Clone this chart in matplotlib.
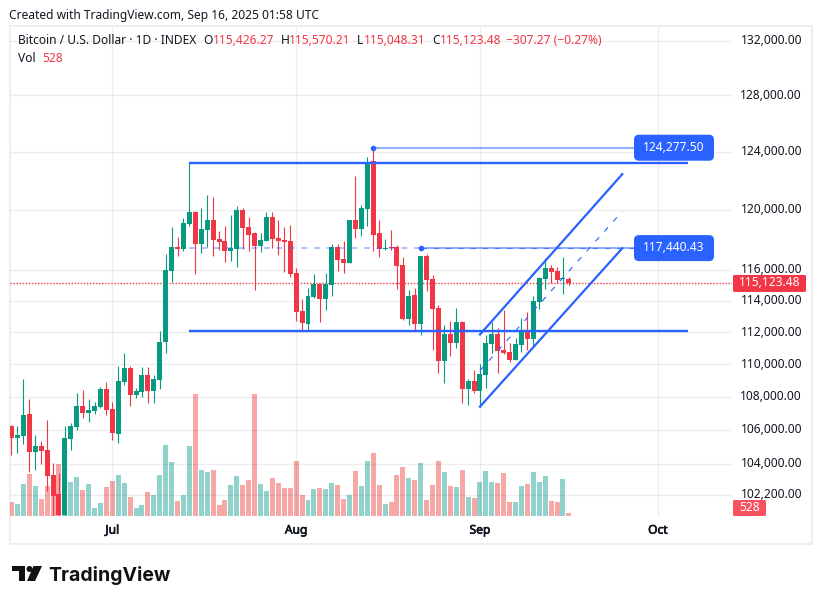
import matplotlib
matplotlib.use('Agg')
import matplotlib.pyplot as plt
import matplotlib.dates as mdates
import matplotlib.patheffects as pe
from matplotlib.patches import Circle, FancyBboxPatch, Polygon, Rectangle
from matplotlib.ticker import NullFormatter, NullLocator
from matplotlib.transforms import Affine2D, ScaledTranslation
import numpy as np
import pandas as pd

plt.rcParams['font.family'] = ['Noto Sans', 'DejaVu Sans']

W, H = 822, 604
BLUE = '#2962FF'
RED = '#F23645'
GREEN = '#089981'
INK = '#131722'

start_date = '2025-06-14'

opens = [106230, 105520, 105640, 106960, 104680, 105020, 104780, 103350, 102250, 101030,
         105440, 106170, 107440, 107040, 107140, 107380, 108470, 107260, 105750, 108900,
         109750, 108110, 108290, 109320, 108350, 109020, 111360, 115910, 117490, 117360,
         119020, 119830, 117700, 118620, 119290, 118030, 117890, 117220, 117360, 119970,
         118820, 118420, 117560, 117890, 119490, 118090, 117960, 117890, 115790, 113350,
         112540, 114240, 115070, 114110, 115010, 117490, 116700, 116440, 119290, 118690,
         120040, 123340, 118420, 117360, 117490, 117490, 116310, 112850, 114370, 112540,
         116900, 115400, 113540, 110180, 111920, 111300, 112670, 108470, 108960, 108350,
         109320, 111240, 111860, 110860, 110740, 110240, 111180, 112110, 111550, 113920,
         115400, 116110, 115910, 115400, 115426.27]
highs = [106290, 106230, 109080, 107870, 105680, 105320, 106590, 104050, 103470, 106230,
         106410, 108230, 108410, 107870, 107680, 108590, 108900, 107680, 109870, 110670,
         109870, 108530, 109810, 109810, 109320, 112110, 117030, 118820, 118160, 119430,
         123210, 119900, 120110, 121010, 120870, 118550, 118880, 119630, 120250, 120110,
         119490, 118490, 118420, 119830, 119830, 119290, 118820, 118950, 116110, 114110,
         114820, 115720, 115140, 115790, 117700, 117700, 117890, 119290, 122300, 120320,
         123620, 124277.5, 119290, 118030, 118620, 117630, 116830, 114690, 114820, 116900,
         117030, 115660, 113730, 112480, 112730, 113540, 112730, 109080, 109630, 109990,
         111800, 112670, 112290, 113410, 111300, 111610, 112910, 113290, 114310, 115530,
         116770, 116310, 116180, 116830, 115570.21]
lows = [104490, 104610, 105160, 103490, 103610, 104010, 102440, 100910, 100930, 100930,
        104800, 106010, 106740, 106490, 106980, 107320, 106900, 105380, 105200, 108710,
        107440, 107930, 107990, 107620, 107620, 108470, 110680, 115200, 116900, 117220,
        118890, 115720, 117090, 117490, 116900, 117290, 116500, 116570, 116180, 117360,
        117220, 114690, 117160, 117890, 117430, 116960, 115850, 115530, 112730, 112050,
        112050, 114180, 112670, 113410, 114310, 115910, 115790, 116440, 118090, 118220,
        118890, 117220, 116830, 117290, 117290, 114750, 112790, 112480, 112110, 111800,
        114630, 110860, 109440, 108830, 110490, 110990, 107630, 107510, 108230, 107400,
        108530, 110680, 109440, 110620, 110110, 110240, 110740, 110860, 111120, 113480,
        114750, 115140, 115140, 114430, 115048.31]
closes = [105520, 105680, 106900, 104680, 105020, 104720, 103310, 102150, 101030, 105500,
          106230, 107440, 107040, 107200, 107440, 108470, 107200, 105810, 108960, 109750,
          108110, 108350, 109320, 108350, 109080, 111360, 115980, 117490, 117360, 119090,
          119830, 117700, 118690, 119290, 117960, 117830, 117220, 117430, 119970, 118750,
          118290, 117560, 117960, 119490, 118030, 117890, 117830, 115720, 113290, 112600,
          114310, 115070, 114110, 115070, 117490, 116630, 116440, 119290, 118690, 120110,
          123200, 118290, 117360, 117430, 117430, 116240, 112850, 114310, 112540, 116900,
          115330, 113480, 110180, 111920, 111300, 112670, 108470, 108960, 108350, 109380,
          111300, 111860, 110810, 110680, 110240, 111240, 112110, 111550, 113990, 115460,
          116110, 115850, 115330, 115460, 115123.48]
volumes = [2460, 2110, 5630, 7390, 5280, 2990, 5280, 3520, 9150, 7040,
           5980, 6860, 4580, 5630, 1410, 2290, 5100, 6160, 7220, 5810,
           3340, 1410, 1940, 4220, 3700, 7220, 12500, 9500, 2640, 3700,
           12320, 21470, 8100, 7740, 8100, 1940, 2820, 5460, 7040, 5460,
           6340, 21470, 5630, 4400, 6690, 5810, 4930, 4930, 9680, 3700,
           2820, 4750, 4930, 4750, 5810, 5460, 2990, 3700, 7920, 5280,
           9680, 11090, 5460, 2110, 2460, 7220, 8620, 6690, 6340, 9330,
           2820, 5460, 9680, 7740, 5280, 5100, 8100, 3340, 3170, 5980,
           7920, 5980, 5810, 7570, 2460, 2460, 5280, 5630, 7740, 5980,
           7040, 2640, 2460, 6510, 528]

price_ticks = [132000, 128000, 124000, 120000, 116000, 114000, 112000, 110000, 108000,
               106000, 104000, 102200]
month_ticks = ['2025-07-01', '2025-08-01', '2025-09-01', '2025-10-01']
month_labels = ['Jul', 'Aug', 'Sep', 'Oct']

range_top = 123180
range_bottom = 112050
high_anchor = 124277.50
second_anchor = 117440.43
channel_lower = [107400, 117430]
channel_middle = [109600, 119900]
channel_upper = [111860, 122440]

dates = pd.date_range(start_date, periods=len(opens))
x = mdates.date2num(dates)
opens, highs, lows, closes = map(np.array, (opens, highs, lows, closes))
up = closes >= opens


def day(s):
    return mdates.date2num(pd.Timestamp(s))


fig = plt.figure(figsize=(W / 100, H / 100), dpi=100, facecolor='white')
px = Affine2D().scale(1, -1).translate(0, H)

left, right, top, bottom = 10, 732, 27, 516
ax = fig.add_axes([left / W, 1 - bottom / H, (right - left) / W, (bottom - top) / H])
vol = ax.twinx()
ax.set_zorder(2)
vol.set_zorder(1)
ax.patch.set_visible(False)
vol.set_axis_off()

# volume pane, 176 volume per pixel
vol.bar(x[up], np.array(volumes)[up], width=0.84, color='#26a69a', alpha=0.5)
vol.bar(x[~up], np.array(volumes)[~up], width=0.84, color='#ef5350', alpha=0.5)
vol.set_ylim(0, 176 * (bottom - top))

# candles
for mask, col in ((up, GREEN), (~up, RED)):
    ax.vlines(x[mask], lows[mask], highs[mask], color=col, lw=0.8, zorder=3)
    ax.bar(x[mask], np.abs(closes - opens)[mask], bottom=np.minimum(opens, closes)[mask],
           width=0.84, color=col, zorder=3)

ax.set_yscale('log')
ax.set_ylim(100980, 133028)
ax.set_xlim(x[0] - 1.5 / 5.93, x[0] + (right - 11.5) / 5.93)

ax.yaxis.tick_right()
ax.set_yticks(price_ticks, labels=['{:,.2f}'.format(p) for p in price_ticks])
ax.yaxis.set_minor_locator(NullLocator())
ax.yaxis.set_minor_formatter(NullFormatter())
ax.set_xticks([day(m) for m in month_ticks], labels=month_labels)
ax.tick_params(axis='y', length=0, pad=50.4, labelsize=8.64, labelcolor=INK)
ax.tick_params(axis='x', length=0, pad=5.5, labelsize=8.64, labelcolor=INK)
# price labels sit a little above their grid lines
nudge = ScaledTranslation(0, 1.7 / 100, fig.dpi_scale_trans)
for t in ax.yaxis.get_major_ticks():
    t.label2.set_ha('right')
    t.label2.set_transform(t.label2.get_transform() + nudge)
for t in ax.get_xticklabels():
    t.set_fontweight('bold')
    t.set_path_effects([pe.withStroke(linewidth=0.5, foreground=INK)])
ax.grid(True, color=INK, alpha=0.07, lw=1)
ax.set_axisbelow(True)
for s in ax.spines.values():
    s.set_visible(False)

# last price line
ax.axhline(closes[-1], color=RED, lw=1, dashes=(1, 1.2), zorder=1)

# drawings
line_end = day('2025-10-06')
line_start = day('2025-07-14')
tag_edge = day('2025-09-27')
ax.plot([line_start, line_end], [range_top] * 2, color=BLUE, lw=1.7, zorder=5, solid_capstyle='butt')
ax.plot([line_start, line_end], [range_bottom] * 2, color=BLUE, lw=1.7, zorder=5, solid_capstyle='butt')

channel_x = [day('2025-09-01'), day('2025-09-25')]
ax.plot(channel_x, channel_lower, color=BLUE, lw=1.6, zorder=5)
ax.plot(channel_x, channel_upper, color=BLUE, lw=1.6, zorder=5)
ax.plot(channel_x, channel_middle, color=BLUE, lw=0.8, dashes=(5, 7), zorder=5)

a1 = day('2025-08-14')
a2 = day('2025-08-22')
ax.plot([a1, tag_edge], [high_anchor] * 2, color=BLUE, alpha=0.5, lw=1.5, zorder=5)
ax.plot([a2, tag_edge], [second_anchor] * 2, color=BLUE, alpha=0.5, lw=1.5, zorder=5)
ax.plot([line_start, a2], [second_anchor] * 2, color=BLUE, alpha=0.45, lw=1.2, dashes=(3.5, 4), zorder=5)
ax.plot([a2, tag_edge], [second_anchor] * 2, color=BLUE, alpha=0.7, lw=0.8, dashes=(5, 6), zorder=5)
ax.plot([a1, a2], [high_anchor, second_anchor], ls='none', marker='o', ms=3, color=BLUE, zorder=6)


def ptext(xp, yp, s, **kw):
    kw.setdefault('fontsize', 8.64)
    kw.setdefault('color', INK)
    kw.setdefault('va', 'center')
    return fig.text(xp / W, 1 - yp / H, s, **kw)


def tag(x0, x1, yc, h, s, col, radius):
    box = FancyBboxPatch((x0 + radius, yc - h / 2 + radius), x1 - x0 - 2 * radius, h - 2 * radius,
                         boxstyle='round,pad={},rounding_size={}'.format(radius, radius),
                         fc=col, ec='none', transform=px, zorder=10)
    fig.add_artist(box)
    ptext((x0 + x1) / 2, yc - 0.5, s, color='white', ha='center', zorder=11)


def price_y(p):
    fig.canvas.draw()
    return H - ax.transData.transform((x[0], p))[1]


tag(634, 714, price_y(high_anchor), 26, '124,277.50', BLUE, 5)
tag(634, 714, price_y(second_anchor), 26, '117,440.43', BLUE, 5)
tag(733, 806, price_y(closes[-1]), 17, '115,123.48', RED, 1.5)
tag(733, 766, 508, 16, '{}'.format(volumes[-1]), '#F7525F', 1.5)

# frame
fig.add_artist(Rectangle((10, 26), 802, 518, fc='none', ec='#eeeeee', lw=1.4, transform=px, zorder=0))

# header
ptext(9, 15, 'Created with TradingView.com, Sep 16, 2025 01:58 UTC')
ptext(18, 41, 'Bitcoin / U.S. Dollar · 1D · INDEX')
for xp, s, col in [(203, 'O', INK), (213, '115,426.27', RED), (281, 'H', INK), (289, '115,570.21', RED),
                   (357, 'L', INK), (364, '115,048.31', RED), (432, 'C', INK), (440, '115,123.48', RED),
                   (506, '−307.27 (−0.27%)', RED)]:
    ptext(xp, 41, s, color=col)
ptext(18, 58, 'Vol')
ptext(42, 58, '{}'.format(volumes[-1]), color=RED)

# logo
fig.add_artist(Polygon([(12, 566), (25, 566), (25, 581), (19, 581), (19, 571), (12, 571)],
                       fc='#111111', ec='none', transform=px))
fig.add_artist(Circle((29.5, 569), 3, fc='#111111', ec='none', transform=px))
fig.add_artist(Polygon([(33.5, 566), (42, 566), (35, 581), (27, 581)], fc='#111111', ec='none', transform=px))
fig.text(48 / W, 1 - 581 / H, 'TradingView', fontsize=14, fontweight='bold', family='Inter',
         color='#111111', va='baseline')

fig.savefig('out.png', dpi=100)
